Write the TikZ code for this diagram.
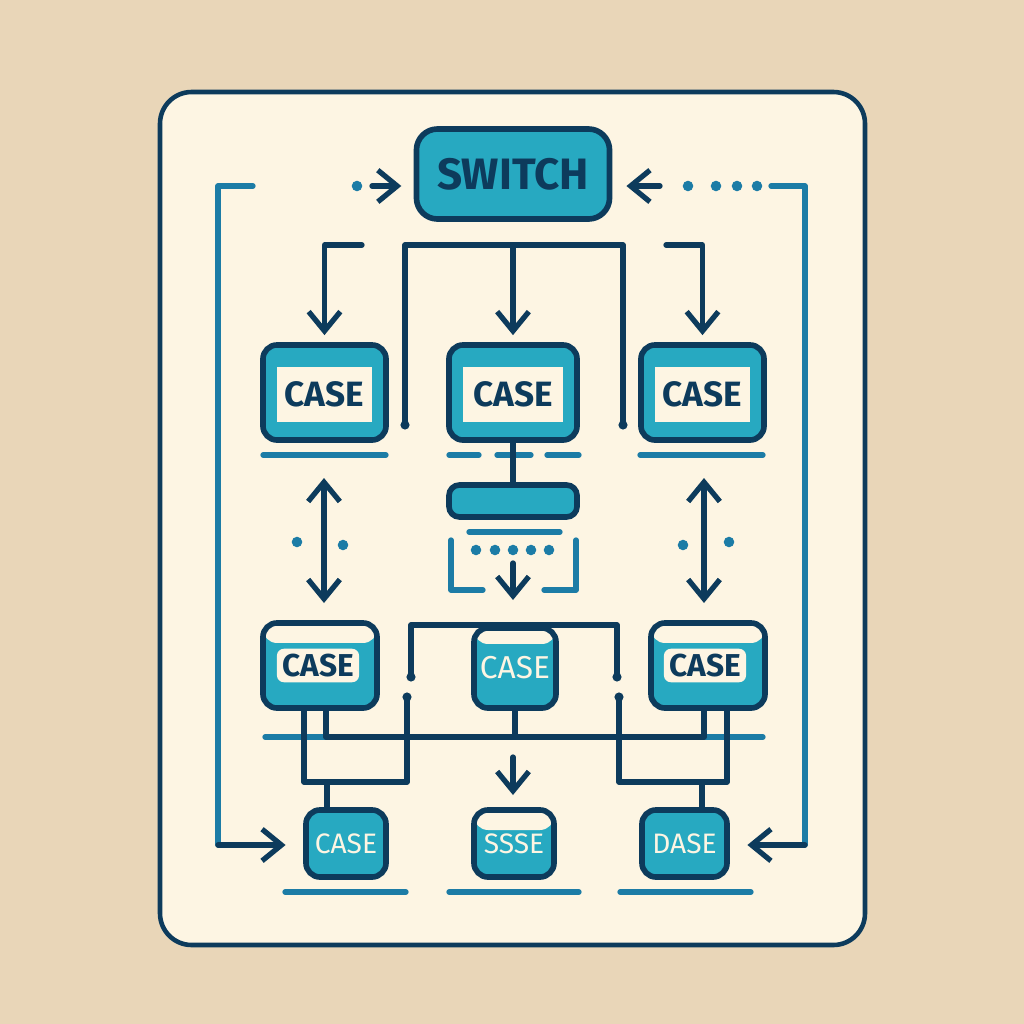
\documentclass[tikz,border=0pt]{standalone}
\usepackage{fontspec}
\setmainfont{Fira Sans}
\usetikzlibrary{positioning,arrows.meta}

\definecolor{navy}{HTML}{0D3B5C}
\definecolor{tealfill}{HTML}{27A9C1}
\definecolor{tealline}{HTML}{1C7CA6}
\definecolor{cream}{HTML}{FDF5E3}
\definecolor{sand}{HTML}{E9D6B8}

\tikzset{
  box/.style={draw=navy, fill=tealfill, line width=1.6pt, rounded corners=4pt, inner sep=0pt},
  band/.style={path picture={\fill[cream] (path picture bounding box.north west)
      rectangle ([yshift=-#1]path picture bounding box.north east);}},
  band/.default=0.2cm,
  link/.style={draw=navy, line width=1.5pt, line cap=round, line join=round},
  trace/.style={draw=tealline, line width=1.5pt, line cap=round, line join=round},
  flow/.style={link, -{Straight Barb[length=5.5pt,width=9pt]}},
  twoway/.style={link, {Straight Barb[length=5.5pt,width=9pt]}-{Straight Barb[length=5.5pt,width=9pt]}},
  dotc/.style={fill=tealline, circle, inner sep=0pt, minimum size=3pt},
  stub/.style={fill=navy, circle, inner sep=0pt, minimum size=2.6pt},
}

\begin{document}
\begin{tikzpicture}[x=0.01cm, y=-0.01cm]
  \fill[sand] (0,0) rectangle (1024,1024);
  \useasboundingbox (0,0) rectangle (1024,1024);
  % panel
  \draw[fill=cream, draw=navy, line width=1.3pt, rounded corners=9pt] (160,92) rectangle (865,945);

  % switch
  \node[box, rounded corners=6pt, minimum width=1.93cm, minimum height=0.9cm, text=navy,
        font=\fontsize{12.5}{12.5}\selectfont\bfseries] (sw) at (513,174) {SWITCH};

  % first row of cases
  \foreach \n/\x/\w in {ca/324.5/1.23, cb/513/1.28, cc/702.5/1.23} {
    \node[box, minimum width=\w cm, minimum height=0.95cm] (\n) at (\x,392.5) {};
    \node[fill=cream, inner sep=0pt, minimum width={\w cm-0.28cm}, minimum height=0.55cm,
          text=navy, font=\fontsize{10}{10}\selectfont\bfseries] (\n-t) at (\x,394.5) {CASE};
  }
  \node[box, rounded corners=3pt, minimum width=1.28cm, minimum height=0.32cm] (bar) at (513,501) {};

  % wiring behind the second row
  \coordinate (ul) at (411,677);
  \coordinate (ur) at (617,677);
  \draw[link] (ul) |- (514,625) -| (ur);
  \draw[trace] (265,737) -- (763,737);

  % second row
  \node[box, band, minimum width=1.14cm, minimum height=0.85cm] (da) at (320,665.5) {};
  \node[fill=cream, rounded corners=2pt, inner sep=1.5pt, text=navy,
        font=\fontsize{9}{9}\selectfont\bfseries] (da-t) at (318,665.5) {CASE};
  \node[box, band=0.16cm, minimum width=0.82cm, minimum height=0.80cm, text=cream,
        font=\fontsize{9}{9}\selectfont] (db) at (515,668) {CASE};
  \node[box, band, minimum width=1.14cm, minimum height=0.85cm] (dc) at (708,665.5) {};
  \node[fill=cream, rounded corners=2pt, inner sep=1.5pt, text=navy,
        font=\fontsize{9}{9}\selectfont\bfseries] (dc-t) at (705,665.5) {CASE};

  % third row
  \node[box, minimum width=0.80cm, minimum height=0.67cm, text=cream,
        font=\fontsize{8}{8}\selectfont] (ea) at (346,843.5) {CASE};
  \node[box, band=0.2cm, minimum width=0.80cm, minimum height=0.67cm, text=cream,
        font=\fontsize{8}{8}\selectfont] (eb) at (514,843.5) {SSSE};
  \node[box, minimum width=0.85cm, minimum height=0.67cm, text=cream,
        font=\fontsize{8}{8}\selectfont] (ec) at (684.5,843.5) {DASE};

  % feeds into the switch
  \coordinate (lin) at (372,186);
  \coordinate (rin) at (660,186);
  \node[dotc] (ld) at (357,186) {};
  \foreach \x [count=\i] in {688,716,737,757} \node[dotc] (rd\i) at (\x,186) {};
  \draw[flow, shorten >=3.5pt] (lin) -- (sw.west |- lin);
  \draw[flow, shorten >=4pt] (rin) -- (sw.east |- rin);

  % outer return traces
  \coordinate (lo) at (253,186);
  \coordinate (lc) at (218,845);
  \coordinate (ro) at (771,186);
  \coordinate (rc) at (805,845);
  \draw[trace] (lo) -- (lo -| lc) -- (lc);
  \draw[trace] (ro) -- (ro -| rc) -- (rc);
  \draw[flow, shorten >=5pt] (lc) -- (lc -| ea.west);
  \draw[flow, shorten >=5pt] (rc) -- (rc -| ec.east);

  % switch to first row
  \coordinate (fl) at (362,245);
  \coordinate (fr) at (666,245);
  \coordinate (ml) at (405,425);
  \coordinate (mr) at (623,425);
  \coordinate (mt) at (513,245);
  \draw[flow, shorten >=2pt] (fl) -| (ca.north);
  \draw[flow, shorten >=2pt] (fr) -| (cc.north);
  \draw[link] (ml) |- (mt) -| (mr);
  \draw[flow, shorten >=2pt] (mt) -- (cb.north);
  \node[stub] at (ml) {};
  \node[stub] at (mr) {};

  % underlines
  \draw[trace] (263,455) -- (386,455);
  \draw[trace] (640,455) -- (763,455);
  \draw[trace] (449,455) -- (479,455) (497,455) -- (531,455) (547,455) -- (579,455);
  \draw[link] (cb.south) -- (bar.north);
  \draw[trace] (469,532) -- (560,532);
  \foreach \x in {476,495,513,531,549} \fill[tealline] (\x,550) circle (1.5pt);
  \draw[trace] (483,590) -| (451,540);
  \draw[trace] (544,590) -| (576,540);
  \draw[flow] (513,563) -- (513,600);

  % between first and second row
  \draw[twoway] (324,478) -- (324,603);
  \draw[twoway] (704,478) -- (704,603);
  \foreach \x/\y in {297/542, 343/545, 683/545, 729/542} \fill[tealline] (\x,\y) circle (1.5pt);

  % second row wiring
  \draw[link] (326,708) |- (704,737) -- (704,708);
  \draw[link] (db.south) -- (db.south |- 0,737);
  \draw[link] (304,708) |- (407,782) -- (407,697);
  \draw[link] (727,708) |- (619,782) -- (619,697);
  \draw[link] (327,782) -- (327,0 |- ea.north);
  \draw[link] (702,782) -- (702,0 |- ec.north);
  \node[stub] at (407,697) {};
  \node[stub] at (619,697) {};
  \node[stub] at (ul) {};
  \node[stub] at (ur) {};
  \draw[flow] (513,757) -- (513,795);

  % bottom underlines
  \draw[trace] (285,892) -- (406,892);
  \draw[trace] (449,892) -- (579,892);
  \draw[trace] (620,892) -- (751,892);
\end{tikzpicture}
\end{document}
